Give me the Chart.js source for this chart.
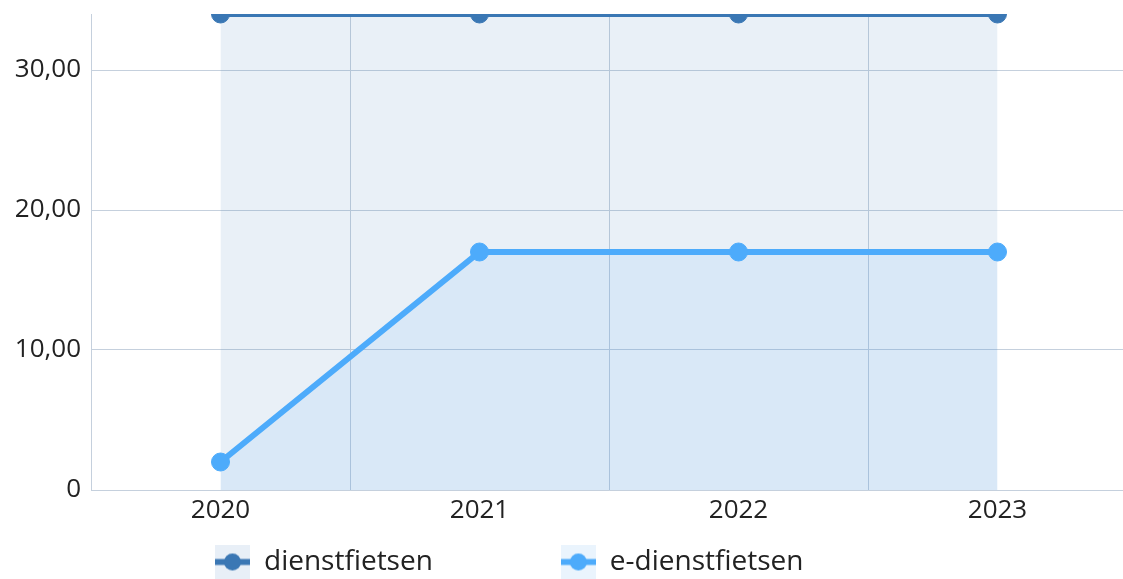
<!DOCTYPE html>
<html lang="nl">
<head>
  <meta charset="UTF-8">
  <title>Dienstfietsen</title>
  <script src="https://cdn.jsdelivr.net/npm/chart.js@4.4.1/dist/chart.umd.min.js"></script>
  <style>
    html, body { margin: 0; padding: 0; overflow: hidden; background: #fff; }
  </style>
</head>
<body>
  <canvas id="chart" width="1137" height="579"></canvas>
  <script>
    const years = ['2020', '2021', '2022', '2023'];
    const dienstfietsen = [34, 34, 34, 34];
    const eDienstfietsen = [2, 17, 17, 17];
    const yTicks = [0, 10, 20, 30];
    const yMax = 34;

    const darkBlue = '#3a77b4';
    const lightBlue = '#4dabfb';
    const gridColor = '#c5d0dd';
    const fontFamily = '"Open Sans", "Noto Sans", sans-serif';

    // small legend swatch: tinted square with the line + dot on top
    function legendIcon(line, bg) {
      const c = document.createElement('canvas');
      c.width = 35; c.height = 35;
      const g = c.getContext('2d');
      g.fillStyle = bg;
      g.fillRect(0, 0, 35, 35);
      g.strokeStyle = line;
      g.lineWidth = 6;
      g.beginPath(); g.moveTo(0, 17.5); g.lineTo(35, 17.5); g.stroke();
      g.fillStyle = line;
      g.beginPath(); g.arc(17.5, 17.5, 8.5, 0, Math.PI * 2); g.fill();
      return c;
    }
    const icons = [legendIcon(darkBlue, '#e8eff7'), legendIcon(lightBlue, '#eaf4fd')];

    // put the legend row where it sits in the original
    const legendPlace = {
      id: 'legendPlace',
      afterLayout(chart) {
        chart.legend.left = 87;
        chart.legend.top = 420;
      }
    };

    const ctx = document.getElementById('chart').getContext('2d');
    const myChart = new Chart(ctx, {
      type: 'line',
      data: {
        labels: years,
        datasets: [{
          label: 'dienstfietsen',
          data: dienstfietsen,
          borderColor: darkBlue,
          backgroundColor: 'rgba(58, 119, 180, 0.11)',
          pointBackgroundColor: darkBlue,
          pointBorderColor: darkBlue,
          fill: 'origin',
          order: 2
        }, {
          label: 'e-dienstfietsen',
          data: eDienstfietsen,
          borderColor: lightBlue,
          backgroundColor: 'rgba(77, 171, 251, 0.1)',
          pointBackgroundColor: lightBlue,
          pointBorderColor: lightBlue,
          fill: 'origin',
          order: 1
        }]
      },
      options: {
        responsive: false,
        animation: false,
        elements: {
          line: { borderWidth: 6, tension: 0 },
          point: { radius: 9, hoverRadius: 9, borderWidth: 1 }
        },
        layout: { padding: { top: 14 } },
        scales: {
          x: {
            offset: true,
            afterFit: s => { s.height = 36; s.paddingLeft = 0; s.paddingRight = 0; },
            grid: { offset: true, color: gridColor, drawTicks: false },
            border: { color: gridColor },
            ticks: { padding: 5, color: '#222', font: { family: fontFamily, size: 26 } }
          },
          y: {
            min: 0,
            max: yMax,
            afterBuildTicks: s => { s.ticks = yTicks.map(v => ({ value: v })); },
            afterFit: s => { s.width = 91; s.paddingTop = 0; s.paddingBottom = 0; },
            grid: { color: gridColor, drawTicks: false },
            border: { color: gridColor },
            ticks: {
              padding: 10,
              color: '#222',
              font: { family: fontFamily, size: 26 },
              callback: v => v === 0 ? '0' : v.toFixed(2).replace('.', ',')
            }
          }
        },
        plugins: {
          tooltip: { enabled: false },
          legend: {
            position: 'bottom',
            align: 'start',
            maxHeight: 53,
            labels: {
              usePointStyle: true,
              pointStyleWidth: 35,
              padding: 128,
              color: '#222',
              font: { family: fontFamily, size: 28 },
              generateLabels: chart => chart.data.datasets.map((ds, i) => ({
                text: ds.label,
                fillStyle: ds.backgroundColor,
                strokeStyle: ds.borderColor,
                lineWidth: 0,
                pointStyle: icons[i],
                hidden: false,
                datasetIndex: i,
                fontColor: '#222'
              }))
            }
          }
        }
      },
      plugins: [legendPlace]
    });
  </script>
</body>
</html>
